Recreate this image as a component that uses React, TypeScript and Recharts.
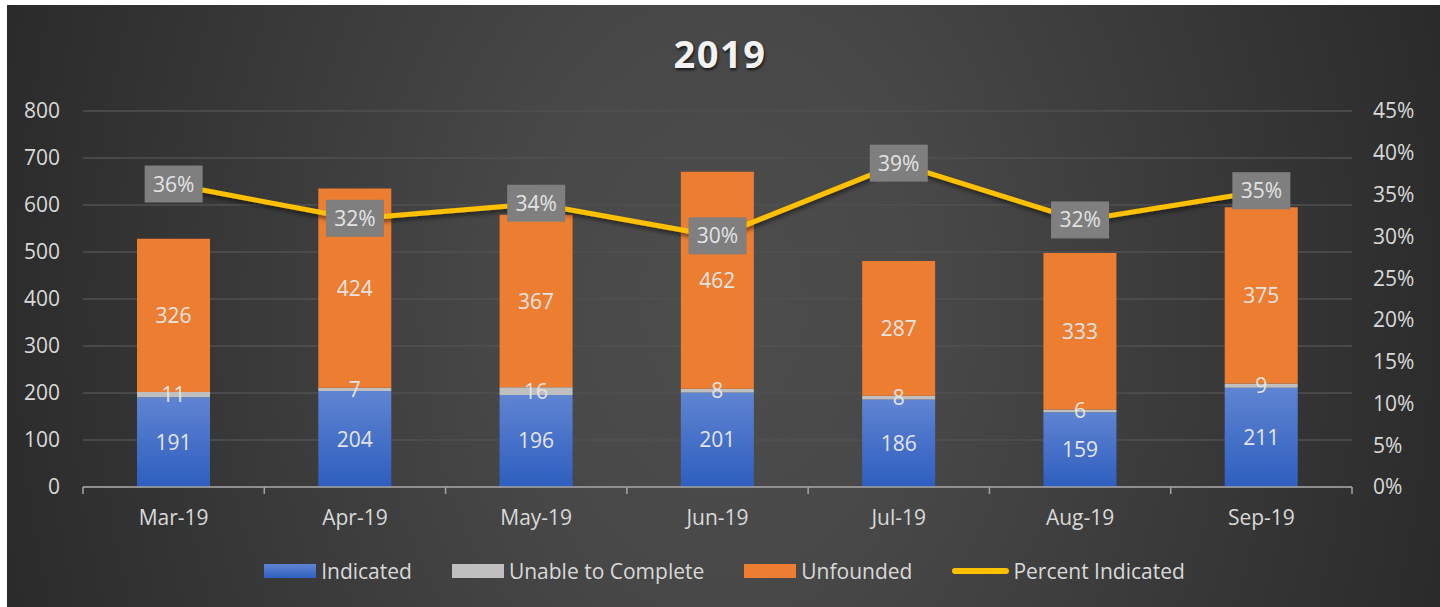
import {
  ComposedChart,
  Bar,
  Line,
  XAxis,
  YAxis,
  CartesianGrid,
  Legend,
  LabelList,
} from "recharts";

const months = ["Mar-19", "Apr-19", "May-19", "Jun-19", "Jul-19", "Aug-19", "Sep-19"];
const indicated = [191, 204, 196, 201, 186, 159, 211];
const unable = [11, 7, 16, 8, 8, 6, 9];
const unfounded = [326, 424, 367, 462, 287, 333, 375];
const percentIndicated = [0.362, 0.321, 0.339, 0.3, 0.387, 0.319, 0.354];

const countTicks = [0, 100, 200, 300, 400, 500, 600, 700, 800];
const pctTicks = [0, 0.05, 0.1, 0.15, 0.2, 0.25, 0.3, 0.35, 0.4, 0.45];

const data = months.map((month, i) => ({
  month,
  indicated: indicated[i],
  unable: unable[i],
  unfounded: unfounded[i],
  pct: percentIndicated[i],
}));

const W = 1440;
const H = 607;
const PLOT_LEFT = 83;
const PLOT_RIGHT = 1352;
const BAND = (PLOT_RIGHT - PLOT_LEFT) / months.length;
const FS = 21;

const textColor = "#d9d9d9";
const labelColor = "#e4e4e4";
const fontFamily = "'Open Sans', 'Noto Sans', sans-serif";

const legendItems = [
  { name: "Indicated", type: "rect", fill: "linear-gradient(#5f84d2, #3060c0)" },
  { name: "Unable to Complete", type: "rect", fill: "#bfbfbf" },
  { name: "Unfounded", type: "rect", fill: "#ed7d31" },
  { name: "Percent Indicated", type: "line", fill: "#ffc000" },
];

const MonthTick = ({ x, y, payload, index }: any) => {
  return (
    <g>
      <line x1={x - BAND / 2} x2={x - BAND / 2} y1={y} y2={y + 7} stroke="#a6a6a6" strokeWidth={1.5} />
      {index === months.length - 1 && (
        <line x1={x + BAND / 2} x2={x + BAND / 2} y1={y} y2={y + 7} stroke="#a6a6a6" strokeWidth={1.5} />
      )}
      <text x={x} y={y + 38} textAnchor="middle" fill={textColor} fontSize={FS}>
        {payload.value}
      </text>
    </g>
  );
};

const PctLabel = ({ x, y, value }: any) => {
  return (
    <g>
      <rect x={x - 29} y={y - 19} width={58} height={37} fill="#7f7f7f" />
      <text x={x} y={y + 7} textAnchor="middle" fill={labelColor} fontSize={FS}>
        {Math.round(value * 100)}%
      </text>
    </g>
  );
};

const CustomLegend = () => (
  <div
    style={{
      display: "flex",
      justifyContent: "center",
      alignItems: "center",
      height: 24,
      paddingLeft: 27,
      fontFamily,
      fontSize: FS,
      color: textColor,
    }}
  >
    {legendItems.map((item, i) => (
      <div
        key={item.name}
        style={{
          display: "flex",
          alignItems: "center",
          marginRight: i === legendItems.length - 1 ? 0 : 40,
        }}
      >
        {item.type === "rect" ? (
          <div style={{ width: 52, height: 14, background: item.fill, marginRight: 5 }} />
        ) : (
          <div
            style={{ width: 57, height: 6, borderRadius: 3, background: item.fill, marginRight: 4 }}
          />
        )}
        <span style={{ lineHeight: "24px" }}>{item.name}</span>
      </div>
    ))}
  </div>
);

export default function App() {
  return (
    <div style={{ position: "relative", width: W, height: H, background: "#fff", fontFamily }}>
      <style>{`body { margin: 0; }`}</style>
      <div
        style={{
          position: "absolute",
          left: 7,
          top: 5,
          width: W - 7,
          height: H - 5,
          background:
            "radial-gradient(ellipse 58% 190% at 50% 50%, #4d4d4d 0%, #484848 25%, #262626 100%)",
        }}
      />
      <div
        style={{
          position: "absolute",
          left: 0,
          width: W,
          top: 28,
          textAlign: "center",
          fontSize: 38,
          fontWeight: 700,
          letterSpacing: 1.5,
          color: "#f2f2f2",
          textShadow: "1px 2px 3px rgba(0,0,0,0.7)",
          lineHeight: "50px",
        }}
      >
        2019
      </div>
      <div style={{ position: "absolute", left: 0, top: 0 }}>
        <ComposedChart
          width={W}
          height={H}
          data={data}
          margin={{ top: 111, right: 18, left: 0, bottom: 24 }}
        >
          <defs>
            <linearGradient id="blueGrad" x1="0" y1="0" x2="0" y2="1">
              <stop offset="0%" stopColor="#5f84d2" />
              <stop offset="100%" stopColor="#2e5ebf" />
            </linearGradient>
            <filter id="lineShadow" x="-5%" y="-50%" width="110%" height="200%">
              <feDropShadow dx="1" dy="3" stdDeviation="2" floodColor="#000" floodOpacity="0.5" />
            </filter>
          </defs>
          <CartesianGrid vertical={false} stroke="#505050" strokeWidth={1.5} yAxisId="count" />
          <XAxis
            dataKey="month"
            height={72}
            axisLine={{ stroke: "#a6a6a6", strokeWidth: 1.5 }}
            tickLine={false}
            tickSize={0}
            tickMargin={0}
            tick={<MonthTick />}
            interval={0}
          />
          <YAxis
            yAxisId="count"
            width={83}
            domain={[0, 800]}
            ticks={countTicks}
            axisLine={false}
            tickLine={false}
            tickSize={0}
            tickMargin={23}
            tick={{ fill: textColor, fontSize: FS }}
          />
          <YAxis
            yAxisId="pct"
            orientation="right"
            width={70}
            domain={[0, 0.45]}
            ticks={pctTicks}
            axisLine={false}
            tickLine={false}
            tickSize={0}
            tickMargin={21}
            tick={{ fill: textColor, fontSize: FS }}
            tickFormatter={(v: number) => `${Math.round(v * 100)}%`}
          />
          <Legend verticalAlign="bottom" content={<CustomLegend />} />
          <Bar
            yAxisId="count"
            dataKey="indicated"
            name="Indicated"
            stackId="a"
            fill="url(#blueGrad)"
            barSize={73}
            isAnimationActive={false}
          >
            <LabelList dataKey="indicated" position="center" fill={labelColor} fontSize={FS} />
          </Bar>
          <Bar
            yAxisId="count"
            dataKey="unable"
            name="Unable to Complete"
            stackId="a"
            fill="#bfbfbf"
            barSize={73}
            isAnimationActive={false}
          >
            <LabelList dataKey="unable" position="center" fill={labelColor} fontSize={FS} />
          </Bar>
          <Bar
            yAxisId="count"
            dataKey="unfounded"
            name="Unfounded"
            stackId="a"
            fill="#ed7d31"
            barSize={73}
            isAnimationActive={false}
          >
            <LabelList dataKey="unfounded" position="center" fill={labelColor} fontSize={FS} />
          </Bar>
          <Line
            yAxisId="pct"
            dataKey="pct"
            name="Percent Indicated"
            stroke="#ffc000"
            strokeWidth={5}
            dot={false}
            activeDot={false}
            filter="url(#lineShadow)"
            isAnimationActive={false}
          >
            <LabelList dataKey="pct" content={<PctLabel />} />
          </Line>
        </ComposedChart>
      </div>
    </div>
  );
}
